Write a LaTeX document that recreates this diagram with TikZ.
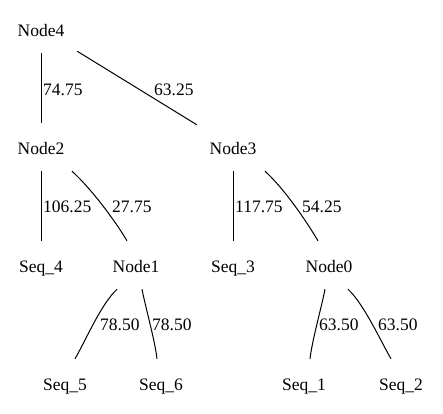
\documentclass[tikz,border=0pt]{standalone}
\usepackage{fontspec}
\setmainfont{Liberation Serif}
\begin{document}
\begin{tikzpicture}[x=1pt,y=-1pt,
  tnode/.style={font=\fontsize{17.5}{20}\selectfont, inner sep=0pt, minimum width=72pt, minimum height=48pt, text height=16pt, text depth=0.4pt},
  elabel/.style={font=\fontsize{17.5}{20}\selectfont, inner sep=0pt, anchor=west},
  edge/.style={line width=1pt}]
\useasboundingbox (0,0) rectangle (443,413);
% nodes
\node[tnode] (n4) at (41,29) {Node4};
\node[tnode] (n2) at (41,147) {Node2};
\node[tnode] (n3) at (233,147) {Node3};
\node[tnode] (s4) at (41,265) {Seq\_4};
\node[tnode] (n1) at (136,265) {Node1};
\node[tnode] (s3) at (233,265) {Seq\_3};
\node[tnode] (n0) at (329,265) {Node0};
\node[tnode] (s5) at (65,383) {Seq\_5};
\node[tnode] (s6) at (161,383) {Seq\_6};
\node[tnode] (s1) at (304,383) {Seq\_1};
\node[tnode] (s2) at (401,383) {Seq\_2};
% edges
\draw[edge] (n4) -- (n2);
\draw[edge] (n4) -- (n3);
\draw[edge] (n2) -- (s4);
\draw[edge] ([xshift=31pt]n2.south) .. controls +(18.5,16.75) and +(-12.75,-21.5) .. ([xshift=-9pt]n1.north);
\draw[edge] (n3) -- (s3);
\draw[edge] ([xshift=32pt]n3.south) .. controls +(18.5,16.75) and +(-12.75,-21.5) .. ([xshift=-11pt]n0.north);
\draw[edge] ([xshift=-19pt]n1.south) .. controls +(-16,15) and +(11,-19) .. ([xshift=10pt]s5.north);
\draw[edge] ([xshift=6pt]n1.south) .. controls +(3,16) and +(-2,-18) .. ([xshift=-4pt]s6.north);
\draw[edge] ([xshift=-4pt]n0.south) .. controls +(-3,16) and +(2,-18) .. ([xshift=6pt]s1.north);
\draw[edge] ([xshift=19pt]n0.south) .. controls +(16,15) and +(-11,-19) .. ([xshift=-10pt]s2.north);
% edge labels
\node[elabel] (l42) at (43,90) {74.75};
\node[elabel] (l43) at (154,90) {63.25};
\node[elabel] (l2s4) at (43,207) {106.25};
\node[elabel] (l21) at (112,207) {27.75};
\node[elabel] (l3s3) at (235,207) {117.75};
\node[elabel] (l30) at (302,207) {54.25};
\node[elabel] (l1s5) at (100,325) {78.50};
\node[elabel] (l1s6) at (152,325) {78.50};
\node[elabel] (l0s1) at (319,325) {63.50};
\node[elabel] (l0s2) at (378,325) {63.50};
\end{tikzpicture}
\end{document}
